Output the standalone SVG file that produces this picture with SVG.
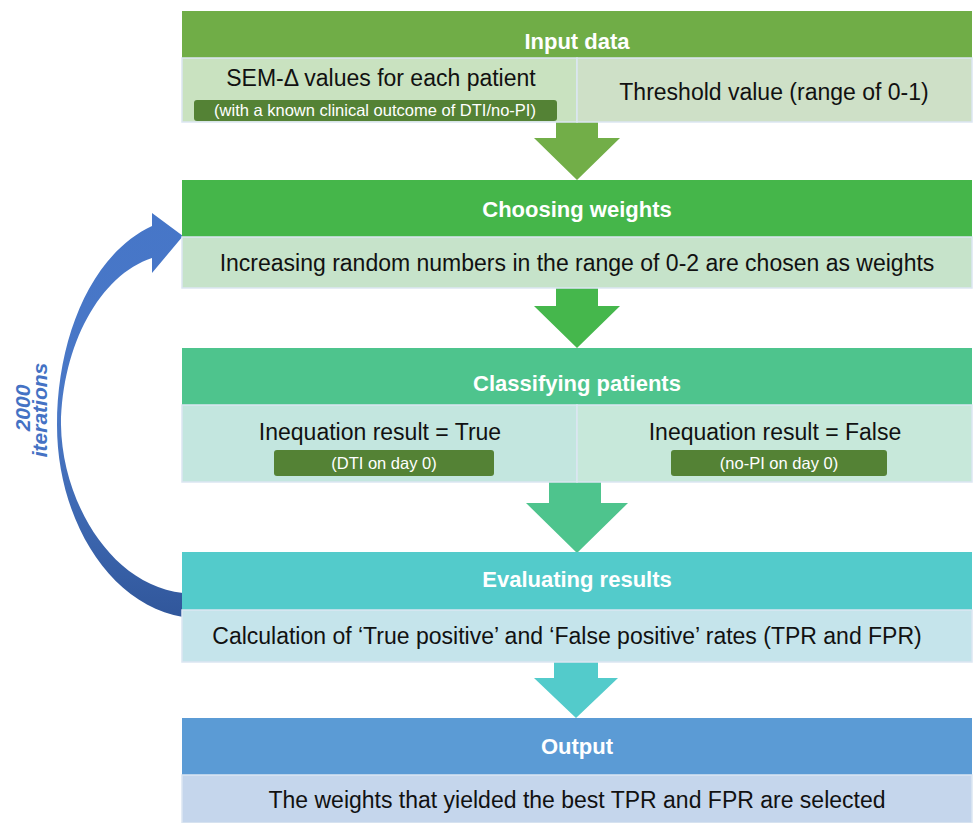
<svg xmlns="http://www.w3.org/2000/svg" width="974" height="823" viewBox="0 0 974 823">
<style>
text{font-family:"Liberation Sans",Arial,sans-serif}
.hd{fill:#fff;font-weight:bold;font-size:22px;text-anchor:middle}
.bt{fill:#111;font-size:23px;text-anchor:middle}
.pt{fill:#fff;font-size:16.5px;text-anchor:middle}
.pill{fill:#548235}
.body{stroke:#dbe6f2;stroke-width:1.5}
.it{fill:#4472C4;font-weight:bold;font-style:italic;font-size:21px;text-anchor:middle}
</style>
<defs>
<linearGradient id="loop" gradientUnits="userSpaceOnUse" x1="0" y1="213" x2="0" y2="623">
<stop offset="0" stop-color="#4676C8"/>
<stop offset="0.5" stop-color="#4A78C6"/>
<stop offset="1" stop-color="#30569A"/>
</linearGradient>
</defs>
<rect width="974" height="823" fill="#fff"/>

<g id="connectors">
<path d="M556 122H598V138H620L577 180L534 138H556Z" fill="#72AE48"/>
<path d="M556 288H598V306H620L577 348L534 306H556Z" fill="#45B74C"/>
<path d="M549 482H601V503H628L577 553L526 503H549Z" fill="#4EC48D"/>
<path d="M554 662H598V678H618L576 718L534 678H554Z" fill="#53CBCB"/>
<path d="M183 617C110 605 57 520 57 425C57 340 90 255 152 226L152 213L183 236L152 273L152 258C100 275 62 345 61 425C62 500 110 585 183 593Z" fill="url(#loop)"/>
<g transform="translate(23 408) rotate(-90)"><text class="it" x="0" y="7">2000</text></g>
<g transform="translate(40 410) rotate(-90)"><text class="it" x="0" y="7">iterations</text></g>
</g>

<g id="input-data">
<rect x="182" y="11" width="790" height="47" fill="#70AD47"/>
<text class="hd" x="577" y="49">Input data</text>
<rect class="body" x="182" y="58" width="395" height="64" fill="#C9E2C0"/>
<rect class="body" x="577" y="58" width="395" height="64" fill="#CEE0C7"/>
<text class="bt" x="381" y="86">SEM-Δ values for each patient</text>
<rect class="pill" x="194" y="100" width="363" height="21" rx="3"/>
<text class="pt" x="375" y="116">(with a known clinical outcome of DTI/no-PI)</text>
<text class="bt" x="774" y="100">Threshold value (range of 0-1)</text>
</g>

<g id="choosing-weights">
<rect x="182" y="180" width="790" height="57" fill="#45B64A"/>
<text class="hd" x="577" y="217">Choosing weights</text>
<rect class="body" x="182" y="237" width="790" height="51" fill="#C6E3CA"/>
<text class="bt" x="577" y="271">Increasing random numbers in the range of 0-2 are chosen as weights</text>
</g>

<g id="classifying-patients">
<rect x="182" y="348" width="790" height="57" fill="#4EC48D"/>
<text class="hd" x="577" y="391">Classifying patients</text>
<rect class="body" x="182" y="405" width="395" height="77" fill="#C3E6DF"/>
<rect class="body" x="577" y="405" width="395" height="77" fill="#C7E8DA"/>
<text class="bt" x="380" y="440">Inequation result = True</text>
<rect class="pill" x="274" y="450" width="220" height="26" rx="3"/>
<text class="pt" x="384" y="469">(DTI on day 0)</text>
<text class="bt" x="775" y="440">Inequation result = False</text>
<rect class="pill" x="671" y="450" width="216" height="26" rx="3"/>
<text class="pt" x="779" y="469">(no-PI on day 0)</text>
</g>

<g id="evaluating-results">
<rect x="182" y="552" width="790" height="58" fill="#53CBCB"/>
<text class="hd" x="577" y="587">Evaluating results</text>
<rect class="body" x="182" y="610" width="790" height="52" fill="#C5E4EB"/>
<text class="bt" x="567" y="644">Calculation of ‘True positive’ and ‘False positive’ rates (TPR and FPR)</text>
</g>

<g id="output">
<rect x="182" y="718" width="790" height="57" fill="#5B9BD5"/>
<text class="hd" x="577" y="754">Output</text>
<rect class="body" x="182" y="775" width="790" height="48" fill="#C5D6EC"/>
<text class="bt" x="577" y="808">The weights that yielded the best TPR and FPR are selected</text>
</g>
</svg>
